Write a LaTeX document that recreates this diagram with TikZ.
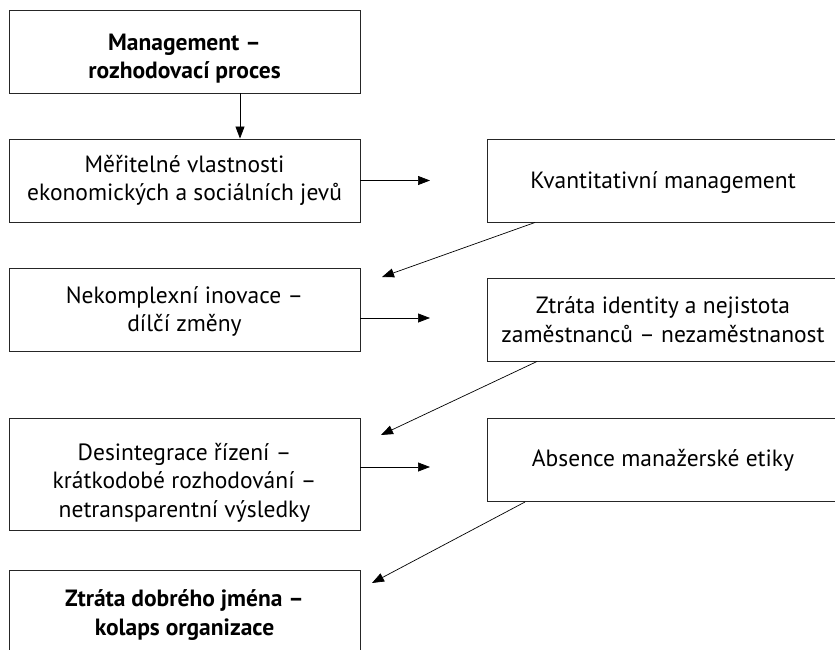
\documentclass[tikz,border=0pt]{standalone}
\usepackage{fontspec}
\setmainfont{PT Sans}
\usetikzlibrary{arrows.meta,calc}
\newcommand{\topstrut}[1]{\rule{0pt}{#1}}
\begin{document}
\begin{tikzpicture}[x=1pt,y=-1pt,
  box/.style={draw=black!85, line width=0.9pt, minimum width=351pt, minimum height=83pt,
    inner sep=0pt, align=center, font=\fontsize{23.5}{28.5}\selectfont},
  tallbox/.style={box, minimum height=112pt},
  conn/.style={line width=0.7pt, -{Triangle[length=12pt,width=9pt]}}]
\useasboundingbox (0,0) rectangle (835,650);
\clip (0,0) rectangle (835,650);
\node[box] (b1) at (184.5,51.5) {\topstrut{31pt}\textbf{Management –}\\\textbf{rozhodovací proces}};
\node[box] (b2) at (184.5,180.5) {Měřitelné vlastnosti\\ekonomických a sociálních jevů};
\node[box] (b3) at (663,180.5) {\topstrut{21pt}Kvantitativní management};
\node[box] (b4) at (184.5,310) {\topstrut{20pt}Nekomplexní inovace –\\dílčí změny};
\node[box] (b5) at (663,319.5) {Ztráta identity a nejistota\\zaměstnanců – nezaměstnanost};
\node[tallbox] (b6) at (184.5,474.5) {\topstrut{33pt}Desintegrace řízení –\\krátkodobé rozhodování –\\netransparentní výsledky};
\node[box] (b7) at (663,460) {Absence manažerské etiky};
\node[box, minimum height=90pt] (b8) at (184.5,615) {\textbf{Ztráta dobrého jména –}\\\textbf{kolaps organizace}};
\coordinate (t2) at (430,180.5);
\coordinate (t4) at (430,318);
\coordinate (t6) at (430,467);
\coordinate (d3) at (382,277);
\coordinate (d5) at (381,435);
\coordinate (d7) at (372,583);
\draw[conn] ([xshift=55.5pt]b1.south) -- ([xshift=55.5pt]b2.north);
\draw[conn] (b2.east) -- (t2);
\draw[conn] ([yshift=-8pt]b4.east) -- (t4);
\draw[conn] ([yshift=7.5pt]b6.east) -- (t6);
\draw[conn] ([xshift=48pt]b3.south west) -- (d3);
\draw[conn] ([xshift=50pt]b5.south west) -- (d5);
\draw[conn] ([xshift=38pt]b7.south west) -- (d7);
\end{tikzpicture}
\end{document}
